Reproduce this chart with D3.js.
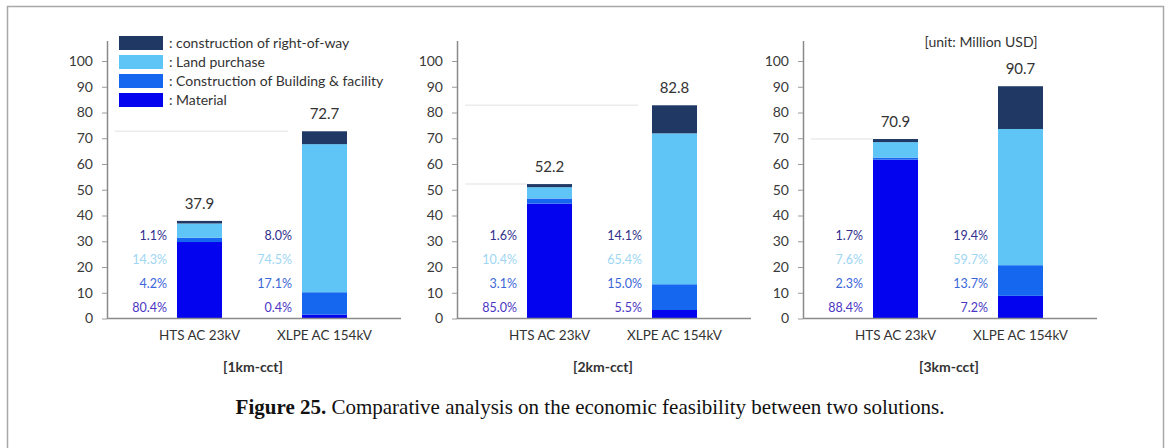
<!DOCTYPE html>
<html><head><meta charset="utf-8">
<script src="https://cdn.jsdelivr.net/npm/d3@7"></script>
<style>
html,body{margin:0;padding:0;background:#fff;}
svg{display:block;}
</style></head>
<body>
<svg id="chart" width="1170" height="448"></svg>
<script>
// ---- data ----
const categories = ["HTS AC 23kV", "XLPE AC 154kV"];
const panelTitles = ["[1km-cct]", "[2km-cct]", "[3km-cct]"];
const seriesNames = ["construction of right-of-way", "Land purchase", "Construction of Building & facility", "Material"];
const stackOrder = ["Material", "Construction of Building & facility", "Land purchase", "construction of right-of-way"];
// segment values [Material, Building, Land, Right-of-way] per panel & category (Million USD)
const material = [[29.7, 1.5], [44.6, 3.3], [61.7, 8.8]];
const building = [[1.7, 8.7], [2.0, 10.0], [0.8, 11.9]];
const land     = [[5.5, 57.5], [4.4, 58.6], [6.0, 52.9]];
const rightOfWay = [[1.0, 5.0], [1.2, 10.9], [1.2, 16.6]];
const totals = [["37.9", "72.7"], ["52.2", "82.8"], ["70.9", "90.7"]];
// percentage labels top-to-bottom: right-of-way, land, building, material
const pctLabels = [
  [["1.1%", "14.3%", "4.2%", "80.4%"], ["8.0%", "74.5%", "17.1%", "0.4%"]],
  [["1.6%", "10.4%", "3.1%", "85.0%"], ["14.1%", "65.4%", "15.0%", "5.5%"]],
  [["1.7%", "7.6%", "2.3%", "88.4%"], ["19.4%", "59.7%", "13.7%", "7.2%"]]
];
const yTicks = [0, 10, 20, 30, 40, 50, 60, 70, 80, 90, 100];
// faint guide lines at bar tops: [panel, category index]
const guides = [[0, 1], [1, 0], [1, 1], [2, 0]];
const unitLabel = "[unit: Million USD]";
const captionBold = "Figure 25.";
const captionText = " Comparative analysis on the economic feasibility between two solutions.";

// ---- styles ----
const colors = {
  "construction of right-of-way": "#1f3864",
  "Land purchase": "#5fc4f6",
  "Construction of Building & facility": "#1667f0",
  "Material": "#0303ef"
};
const pctColors = ["#302f8c", "#9ed6f2", "#3a66d8", "#4a36c4"];
const FONT = "Lato, 'Open Sans', sans-serif";

const svg = d3.select("#chart");

// frame
svg.append("path").attr("d", "M7.5,448 V6.5 H1163.5 V448")
  .attr("fill", "none").attr("stroke", "#a8a8a8").attr("stroke-width", 1.5);

const axisXs = [107, 457, 803];
const panelW = 294;
const y = d3.scaleLinear().domain([0, 108]).range([318.5, 40.4]);
const x = d3.scaleBand().domain(categories).range([70, 240]).paddingInner(0.64).paddingOuter(0);

const valueOf = {
  "Material": material,
  "Construction of Building & facility": building,
  "Land purchase": land,
  "construction of right-of-way": rightOfWay
};

panelTitles.forEach((title, p) => {
  const g = svg.append("g").attr("transform", `translate(${axisXs[p]},0)`);

  // guide lines
  guides.filter(d => d[0] === p).forEach(([, c]) => {
    const top = material[p][c] + building[p][c] + land[p][c] + rightOfWay[p][c];
    g.append("line")
      .attr("x1", 8).attr("x2", x(categories[c]) - (c === 1 ? 14 : 0))
      .attr("y1", y(top)).attr("y2", y(top))
      .attr("stroke", "#ebebeb").attr("stroke-width", 1.5);
  });

  // stacked bars
  const rows = categories.map((cat, c) => {
    const r = { cat };
    stackOrder.forEach(s => r[s] = valueOf[s][p][c]);
    return r;
  });
  const stacked = d3.stack().keys(stackOrder)(rows);
  g.selectAll("g.layer").data(stacked).join("g")
    .attr("fill", d => colors[d.key])
    .selectAll("rect").data(d => d).join("rect")
    .attr("x", d => x(d.data.cat))
    .attr("width", x.bandwidth())
    .attr("y", d => y(d[1]))
    .attr("height", d => y(d[0]) - y(d[1]));

  // y axis
  const ya = g.append("g")
    .call(d3.axisLeft(y).tickValues(yTicks).tickSize(5).tickPadding(9).tickSizeOuter(0));
  ya.select(".domain").attr("stroke", "#8a8a8a").attr("stroke-width", 1.5);
  ya.selectAll(".tick line").attr("stroke", "#9a9a9a");
  ya.selectAll(".tick text").attr("font-family", FONT).attr("font-size", 14).attr("fill", "#3a3a3a");

  // x axis line
  g.append("line").attr("x1", 0).attr("x2", panelW).attr("y1", y(0)).attr("y2", y(0))
    .attr("stroke", "#8a8a8a").attr("stroke-width", 1.5);

  // category labels
  categories.forEach((cat, c) => {
    g.append("text").attr("x", x(cat) + x.bandwidth() / 2).attr("y", 340)
      .attr("text-anchor", "middle").attr("font-family", FONT).attr("font-size", 13.5)
      .attr("fill", "#333").text(cat);
    // total label
    const top = material[p][c] + building[p][c] + land[p][c] + rightOfWay[p][c];
    g.append("text").attr("x", x(cat) + x.bandwidth() / 2).attr("y", y(top) - 12)
      .attr("text-anchor", "middle").attr("font-family", FONT).attr("font-size", 15)
      .attr("fill", "#333").text(totals[p][c]);
    // percentage labels
    pctLabels[p][c].forEach((t, i) => {
      g.append("text").attr("x", x(cat) - 10).attr("y", 240 + i * 24)
        .attr("text-anchor", "end").attr("font-family", FONT).attr("font-size", 12.5)
        .attr("fill", pctColors[i]).text(t);
    });
  });

  // panel title
  g.append("text").attr("x", 146).attr("y", 372).attr("text-anchor", "middle")
    .attr("font-family", FONT).attr("font-weight", "bold").attr("font-size", 14)
    .attr("fill", "#333").text(title);
});

// legend
const lg = svg.append("g").attr("transform", "translate(119,36)");
seriesNames.forEach((s, i) => {
  lg.append("rect").attr("x", 0).attr("y", i * 19).attr("width", 44).attr("height", 14).attr("fill", colors[s]);
  lg.append("text").attr("x", 50).attr("y", i * 19 + 12)
    .attr("font-family", FONT).attr("font-size", 14).attr("fill", "#333").text(": " + s);
});

// unit label
svg.append("text").attr("x", 981).attr("y", 47).attr("text-anchor", "middle")
  .attr("font-family", FONT).attr("font-size", 14).attr("fill", "#333").text(unitLabel);

// caption
const cap = svg.append("text").attr("x", 590).attr("y", 414).attr("text-anchor", "middle")
  .attr("font-family", "'Liberation Serif', 'DejaVu Serif', serif").attr("font-size", 21).attr("fill", "#111");
cap.append("tspan").attr("font-weight", "bold").text(captionBold);
cap.append("tspan").text(captionText);
</script>
</body></html>
